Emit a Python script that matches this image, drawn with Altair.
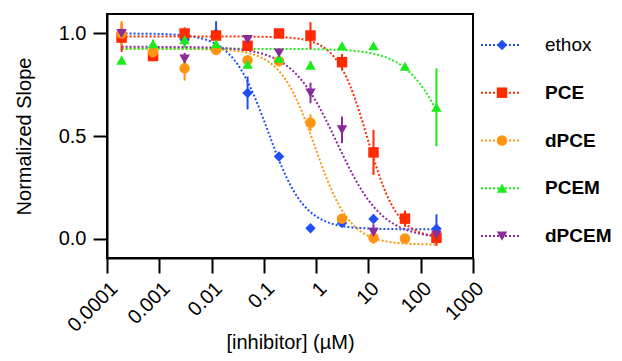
import altair as alt
import pandas as pd
import numpy as np

FONT = "Liberation Sans"

series = ["ethox", "PCE", "dPCE", "PCEM", "dPCEM"]
colors = ["#1f4ff5", "#ff2a00", "#ff9410", "#1aeb1a", "#8a2b9a"]
shapes = ["diamond", "square", "circle", "triangle-up", "triangle-down"]

conc = [0.00019, 0.00076, 0.00305, 0.0122, 0.0488, 0.195, 0.78, 3.125, 12.5, 50, 200]

ethox_y = [1.00, None, 0.97, 1.00, 0.71, 0.40, 0.05, 0.076, 0.095, None, 0.048]
ethox_e = [0.01, None, 0.03, 0.06, 0.08, 0.01, 0.01, 0.01, 0.01, None, 0.07]
pce_y = [0.98, 0.89, 1.00, 0.99, 0.94, 1.00, 0.99, 0.86, 0.42, 0.097, 0.004]
pce_e = [0.07, 0.02, 0.03, 0.02, 0.02, 0.02, 0.065, 0.04, 0.11, 0.04, 0.04]
dpce_y = [1.00, 0.91, 0.83, 0.92, 0.87, 0.865, 0.565, 0.097, 0.004, 0.0, None]
dpce_e = [0.06, 0.02, 0.06, 0.02, 0.02, 0.02, 0.04, 0.01, 0.03, 0.01, None]
pcem_y = [0.87, 0.95, 0.97, 0.95, 0.85, 0.88, 0.845, 0.94, 0.94, 0.84, 0.64]
pcem_e = [0.01, 0.02, 0.04, 0.02, 0.02, 0.04, 0.02, 0.01, 0.01, 0.01, 0.19]
dpcem_y = [1.00, None, 0.875, None, 0.97, 0.905, 0.71, 0.53, 0.03, None, 0.017]
dpcem_e = [0.02, None, 0.03, None, 0.02, 0.02, 0.05, 0.065, 0.04, None, 0.03]

# fitted 4-parameter logistic curves (top, bottom, IC50, Hill slope)
fit_top = [1.00, 0.985, 0.925, 0.925, 0.935]
fit_bottom = [0.045, 0.0, -0.03, 0.0, 0.0]
fit_ic50 = [0.12, 9.5, 0.95, 400.0, 2.5]
fit_hill = [1.25, 1.5, 1.3, 1.05, 1.0]

ys = [ethox_y, pce_y, dpce_y, pcem_y, dpcem_y]
es = [ethox_e, pce_e, dpce_e, pcem_e, dpcem_e]

rows = []
for i, s in enumerate(series):
    for c, v, e in zip(conc, ys[i], es[i]):
        if v is None:
            continue
        rows.append({"series": s, "idx": i, "conc": c, "y": v,
                     "lo": v - e, "hi": v + e})
pts = pd.DataFrame(rows)

crow = []
lx = np.linspace(np.log10(min(conc)), np.log10(max(conc)), 200)
for i, s in enumerate(series):
    for l in lx:
        yv = fit_bottom[i] + (fit_top[i] - fit_bottom[i]) / (
            1 + 10 ** ((l - np.log10(fit_ic50[i])) * fit_hill[i]))
        crow.append({"series": s, "idx": i, "conc": 10 ** l, "yfit": yv})
curves = pd.DataFrame(crow)

color = alt.Color("series:N", scale=alt.Scale(domain=series, range=colors), legend=None)
shape = alt.Shape("series:N", scale=alt.Scale(domain=series, range=shapes), legend=None)

xscale = alt.Scale(type="log", domain=[1e-4, 1e3], nice=False)
yscale = alt.Scale(domain=[-0.095, 1.095], nice=False, zero=False)

xaxis = alt.Axis(values=[1e-4, 1e-3, 1e-2, 1e-1, 1, 10, 100, 1000], format="~g",
                 labelAngle=-45, tickSize=15, labelPadding=5, labelFlush=False,
                 labelOverlap=False, title="[inhibitor] (µM)", titlePadding=-3)
yaxis = alt.Axis(values=[0, 0.5, 1.0], format=".1f", tickSize=14, labelPadding=7,
                 title="Normalized Slope", titlePadding=24)

lines = alt.Chart(curves).mark_line(strokeDash=[2, 2], strokeWidth=2).encode(
    x=alt.X("conc:Q", scale=xscale, axis=xaxis),
    y=alt.Y("yfit:Q", scale=yscale, axis=yaxis),
    color=color,
    detail="series:N",
)

errs = alt.Chart(pts).mark_rule(strokeWidth=2).encode(
    x=alt.X("conc:Q", scale=xscale),
    y=alt.Y("lo:Q", scale=yscale),
    y2="hi:Q",
    color=color,
    order=alt.Order("idx:Q"),
)

points = alt.Chart(pts).mark_point(filled=True, size=110, opacity=1).encode(
    x=alt.X("conc:Q", scale=xscale),
    y=alt.Y("y:Q", scale=yscale),
    color=color,
    shape=shape,
    order=alt.Order("idx:Q"),
)

plot = alt.layer(lines, errs, points)

leg_df = pd.DataFrame({"series": series})
ly = alt.Y("series:N", sort=series, scale=alt.Scale(range=[7, 246]), axis=None)

leg_line = alt.Chart(leg_df).mark_rule(strokeDash=[2, 2], strokeWidth=2).encode(
    x=alt.value({"expr": "width + 8"}), x2=alt.value({"expr": "width + 48"}),
    y=ly, color=color)
leg_pt = alt.Chart(leg_df).mark_point(filled=True, size=110, opacity=1).encode(
    x=alt.value({"expr": "width + 29"}), y=ly, color=color, shape=shape)
leg_txt_n = alt.Chart(leg_df).transform_filter("datum.series == 'ethox'").mark_text(
    align="left", baseline="middle", fontSize=19, font=FONT, color="black").encode(
    x=alt.value({"expr": "width + 72"}), y=ly, text="series:N")
leg_txt_b = alt.Chart(leg_df).transform_filter("datum.series != 'ethox'").mark_text(
    align="left", baseline="middle", fontSize=19, font=FONT, fontWeight="bold",
    color="black").encode(x=alt.value({"expr": "width + 72"}), y=ly, text="series:N")

legend = alt.layer(leg_line, leg_pt, leg_txt_n, leg_txt_b)

chart = alt.layer(plot, legend).resolve_scale(y="independent").properties(
    width=606, height=345,
    autosize=alt.AutoSizeParams(type="fit", contains="padding"),
    padding={"left": 6, "top": 6, "right": 2, "bottom": 0},
    view=alt.ViewBackground(stroke="black", strokeWidth=2),
).configure_axis(
    domainColor="black", domainWidth=2, tickColor="black", tickWidth=2,
    labelFont=FONT, labelFontSize=20, labelColor="black",
    titleFont=FONT, titleFontSize=20, titleFontWeight="normal", titleColor="black",
    grid=False,
)

chart.save("out.html", embed_options={"renderer": "svg", "actions": False})
